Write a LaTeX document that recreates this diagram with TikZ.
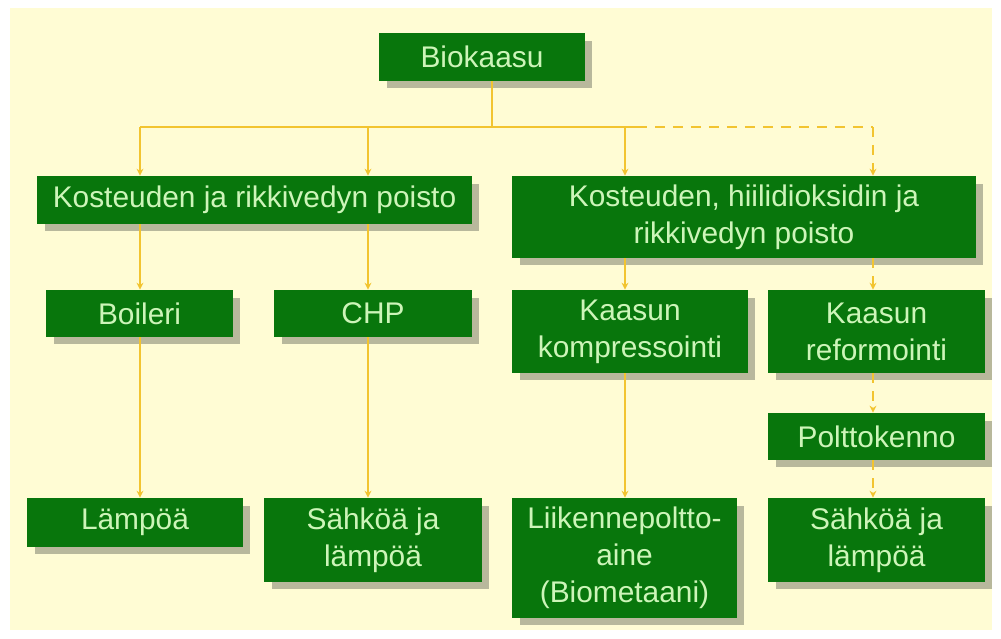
\documentclass[tikz,border=0pt]{standalone}
\usepackage{fontspec}
\setmainfont{Liberation Sans}
\usetikzlibrary{arrows.meta,shadows}
\definecolor{boxgreen}{RGB}{8,118,12}
\definecolor{txtgreen}{RGB}{205,245,185}
\definecolor{linegold}{RGB}{242,196,48}
\definecolor{paper}{RGB}{255,252,212}
\definecolor{shade}{RGB}{184,184,156}

\begin{document}
\begin{tikzpicture}
  [x=0.02cm, y=-0.02cm,
  box/.style={fill=boxgreen, text=txtgreen, align=center, inner sep=0pt,
    font=\fontsize{17}{21}\selectfont,
    drop shadow={shadow xshift=0.15cm, shadow yshift=-0.15cm, fill=shade, opacity=1}},
  wire/.style={draw=linegold, line width=1.3pt},
  link/.style={wire, -{Stealth[length=4pt,width=4pt]}},
  maybe/.style={link, dash pattern=on 0.2cm off 0.16cm}]

  \useasboundingbox[fill=white] (0,0) rectangle (1001,639);
  \fill[paper] (10,8) rectangle (992,630);

  \node[box, minimum width=4.12cm, minimum height=0.96cm] (bio) at (482,57) {Biokaasu};

  \node[box, minimum width=8.7cm, minimum height=0.96cm] (lkost) at (254.5,200)
    {Kosteuden ja rikkivedyn poisto};
  \node[box, minimum width=9.28cm, minimum height=1.64cm] (rkost) at (744,217)
    {Kosteuden, hiilidioksidin ja\\ rikkivedyn poisto};

  \node[box, minimum width=3.74cm, minimum height=0.94cm] (boil) at (139.5,313.5) {Boileri};
  \node[box, minimum width=3.96cm, minimum height=0.94cm] (chp) at (373,313.5) {CHP};
  \node[box, minimum width=4.72cm, minimum height=1.66cm] (komp) at (630,331.5)
    {Kaasun\\ kompressointi};
  \node[box, minimum width=4.34cm, minimum height=1.66cm] (refo) at (876.5,331.5)
    {Kaasun\\ reformointi};
  \node[box, minimum width=4.34cm, minimum height=0.94cm] (polt) at (876.5,436.5) {Polttokenno};

  \node[box, minimum width=4.32cm, minimum height=0.98cm] (lampo) at (135,522.5) {Lämpöä};
  \node[box, minimum width=4.36cm, minimum height=1.68cm] (sahkoa) at (373,540)
    {Sähköä ja\\ lämpöä};
  \node[box, minimum width=4.5cm, minimum height=2.4cm] (liik) at (624.5,558)
    {Liikennepoltto-\\ aine\\ (Biometaani)};
  \node[box, minimum width=4.34cm, minimum height=1.68cm] (sahkob) at (876.5,540)
    {Sähköä ja\\ lämpöä};

  % branch points
  \coordinate (top) at (492,127);
  \coordinate (b1) at (140,127);
  \coordinate (b2) at (368,127);
  \coordinate (b3) at (625,127);
  \coordinate (b4) at (873,127);
  \coordinate (dash0) at (637,127);

  \draw[wire] (bio.south -| top) -- (top);
  \draw[wire] (b1) -- (dash0);
  \draw[wire, dash pattern=on 0.2cm off 0.16cm] (dash0) -- (b4);

  \draw[link] (b1) -- (b1 |- lkost.north);
  \draw[link] (b2) -- (b2 |- lkost.north);
  \draw[link] (b3) -- (b3 |- rkost.north);
  \draw[maybe] (b4) -- (b4 |- rkost.north);

  \draw[link] (lkost.south -| b1) -- (boil.north -| b1);
  \draw[link] (lkost.south -| b2) -- (chp.north -| b2);
  \draw[link] (rkost.south -| b3) -- (komp.north -| b3);
  \draw[maybe] (rkost.south -| b4) -- (refo.north -| b4);

  \draw[link] (boil.south -| b1) -- (lampo.north -| b1);
  \draw[link] (chp.south -| b2) -- (sahkoa.north -| b2);
  \draw[link] (komp.south -| b3) -- (liik.north -| b3);
  \draw[maybe] (refo.south -| b4) -- (polt.north -| b4);
  \draw[maybe] (polt.south -| b4) -- (sahkob.north -| b4);

\end{tikzpicture}
\end{document}
